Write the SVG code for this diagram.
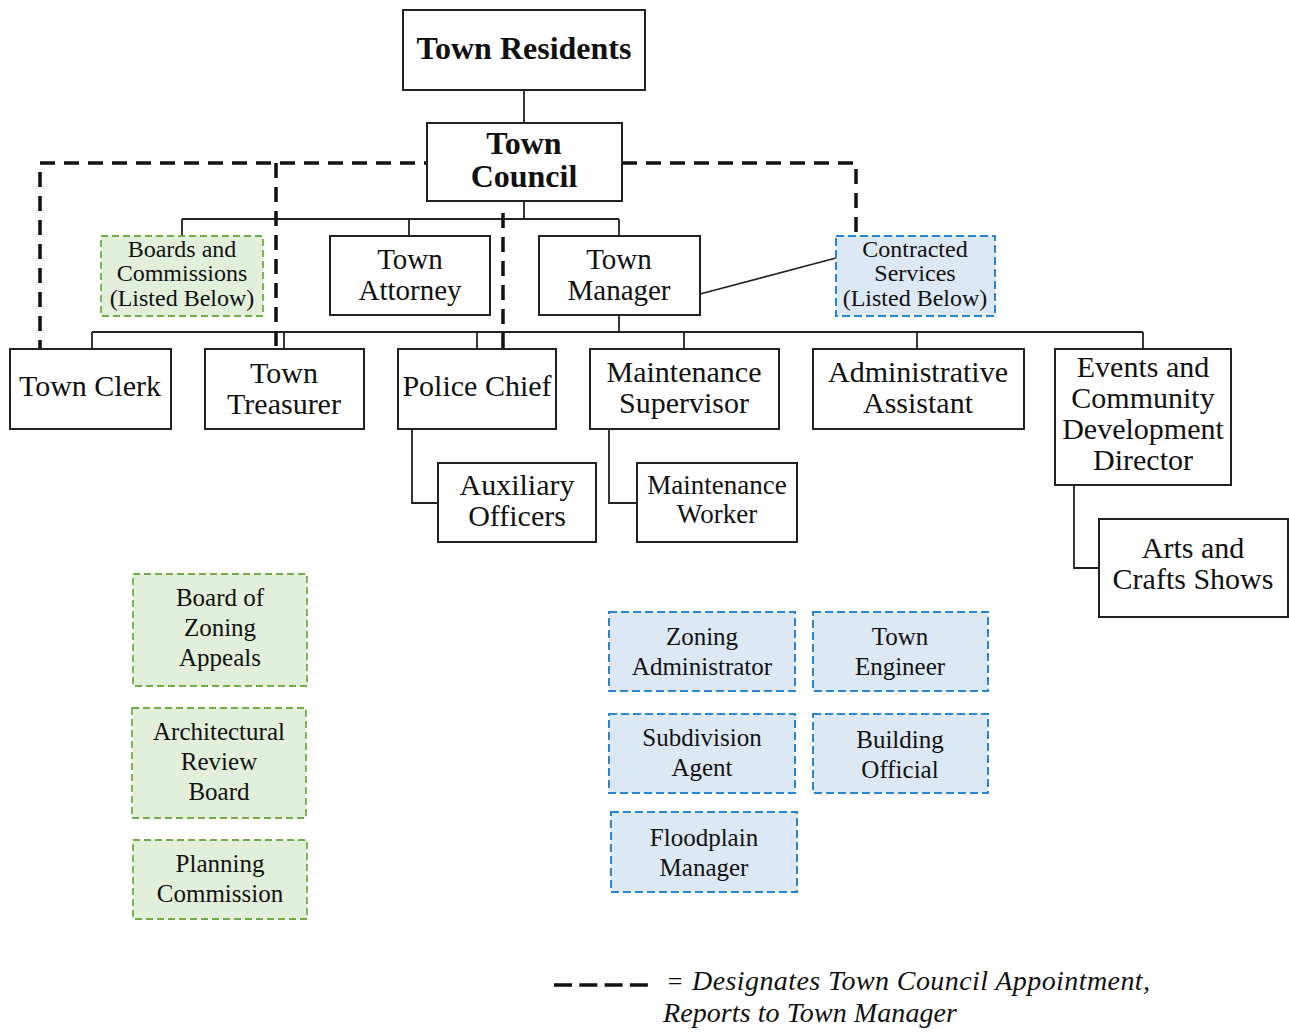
<svg xmlns="http://www.w3.org/2000/svg" width="1289" height="1034" viewBox="0 0 1289 1034">
<style>
  text { font-family: "Liberation Serif", "Times New Roman", serif; fill: #111; text-anchor: middle; }
  .box { fill: #fff; stroke: #222; stroke-width: 2; }
  .green { fill: #e2efda; stroke: #70ad47; stroke-width: 1.8; stroke-dasharray: 7 4; }
  .blue { fill: #dde8f5; stroke: #2a85d3; stroke-width: 2; stroke-dasharray: 8 4; }
  .t30 { font-size: 30px; }
  .t29 { font-size: 29px; }
  .t25 { font-size: 25px; }
  .t24 { font-size: 24px; }
  .t27 { font-size: 27px; }
  .bold { font-size: 32px; font-weight: bold; }
  .conn { fill: none; stroke: #222; stroke-width: 1.8; }
  .dash { fill: none; stroke: #111; stroke-width: 3.5; stroke-dasharray: 15 9; }
  .legend { font-size: 28px; font-style: italic; text-anchor: start; }
</style>
<rect width="1289" height="1034" fill="#fff"/>
<g id="connectors">
  <path class="conn" d="M524,90 V123"/>
  <path class="conn" d="M524,201 V219 M182,219 H619 M182,219 V236 M409,219 V236 M619,219 V236"/>
  <path class="conn" d="M700,294 L836,258"/>
  <path class="conn" d="M619,315 V332 M92,332 H1143 M92,332 V349 M284,332 V349 M477,332 V349 M684,332 V349 M917,332 V349 M1143,332 V349"/>
  <path class="conn" d="M412,429 V503 H438"/>
  <path class="conn" d="M609,429 V503 H637"/>
  <path class="conn" d="M1074,485 V568 H1099"/>
  <path class="dash" d="M40,355 V163 H427"/>
  <path class="dash" d="M276,163 V349"/>
  <path class="dash" d="M622,163 H856 V236"/>
  <path class="dash" d="M503,213 V357"/>
</g>
<g id="town-residents"><rect class="box" x="403" y="10" width="242" height="80"/><text class="bold" x="524" y="59">Town Residents</text></g>
<g id="town-council"><rect class="box" x="427" y="123" width="195" height="78"/><text class="bold" x="524" y="154">Town</text><text class="bold" x="524" y="187">Council</text></g>
<g id="boards-commissions"><rect class="green" x="101" y="236" width="162" height="80"/><text class="t24" x="182" y="257">Boards and</text><text class="t24" x="182" y="281">Commissions</text><text class="t24" x="182" y="306">(Listed Below)</text></g>
<g id="town-attorney"><rect class="box" x="330" y="236" width="160" height="79"/><text class="t29" x="410" y="269">Town</text><text class="t29" x="410" y="300">Attorney</text></g>
<g id="town-manager"><rect class="box" x="539" y="236" width="161" height="79"/><text class="t29" x="619" y="269">Town</text><text class="t29" x="619" y="300">Manager</text></g>
<g id="contracted-services"><rect class="blue" x="836" y="236" width="159" height="80"/><text class="t24" x="915" y="257">Contracted</text><text class="t24" x="915" y="281">Services</text><text class="t24" x="915" y="306">(Listed Below)</text></g>
<g id="town-clerk"><rect class="box" x="10" y="349" width="161" height="80"/><text class="t30" x="90" y="396">Town Clerk</text></g>
<g id="town-treasurer"><rect class="box" x="205" y="349" width="159" height="80"/><text class="t30" x="284" y="383">Town</text><text class="t30" x="284" y="414">Treasurer</text></g>
<g id="police-chief"><rect class="box" x="398" y="349" width="158" height="80"/><text class="t30" x="477" y="396">Police Chief</text></g>
<g id="maintenance-supervisor"><rect class="box" x="590" y="349" width="189" height="80"/><text class="t30" x="684" y="382">Maintenance</text><text class="t30" x="684" y="413">Supervisor</text></g>
<g id="administrative-assistant"><rect class="box" x="813" y="349" width="211" height="80"/><text class="t30" x="918" y="382">Administrative</text><text class="t30" x="918" y="413">Assistant</text></g>
<g id="events-director"><rect class="box" x="1055" y="349" width="176" height="136"/><text class="t30" x="1143" y="377">Events and</text><text class="t30" x="1143" y="408">Community</text><text class="t30" x="1143" y="439">Development</text><text class="t30" x="1143" y="470">Director</text></g>
<g id="auxiliary-officers"><rect class="box" x="438" y="463" width="158" height="79"/><text class="t30" x="517" y="495">Auxiliary</text><text class="t30" x="517" y="526">Officers</text></g>
<g id="maintenance-worker"><rect class="box" x="637" y="463" width="160" height="79"/><text class="t27" x="717" y="494">Maintenance</text><text class="t27" x="717" y="523">Worker</text></g>
<g id="arts-crafts"><rect class="box" x="1099" y="519" width="189" height="98"/><text class="t30" x="1193" y="558">Arts and</text><text class="t30" x="1193" y="589">Crafts Shows</text></g>
<g id="board-zoning-appeals"><rect class="green" x="133" y="574" width="174" height="112"/><text class="t25" x="220" y="606">Board of</text><text class="t25" x="220" y="636">Zoning</text><text class="t25" x="220" y="666">Appeals</text></g>
<g id="architectural-review"><rect class="green" x="132" y="708" width="174" height="110"/><text class="t25" x="219" y="740">Architectural</text><text class="t25" x="219" y="770">Review</text><text class="t25" x="219" y="800">Board</text></g>
<g id="planning-commission"><rect class="green" x="133" y="840" width="174" height="79"/><text class="t25" x="220" y="872">Planning</text><text class="t25" x="220" y="902">Commission</text></g>
<g id="zoning-administrator"><rect class="blue" x="609" y="612" width="186" height="79"/><text class="t25" x="702" y="645">Zoning</text><text class="t25" x="702" y="675">Administrator</text></g>
<g id="town-engineer"><rect class="blue" x="813" y="612" width="175" height="79"/><text class="t25" x="900" y="645">Town</text><text class="t25" x="900" y="675">Engineer</text></g>
<g id="subdivision-agent"><rect class="blue" x="609" y="714" width="186" height="79"/><text class="t25" x="702" y="746">Subdivision</text><text class="t25" x="702" y="776">Agent</text></g>
<g id="building-official"><rect class="blue" x="813" y="714" width="175" height="79"/><text class="t25" x="900" y="748">Building</text><text class="t25" x="900" y="778">Official</text></g>
<g id="floodplain-manager"><rect class="blue" x="611" y="812" width="186" height="80"/><text class="t25" x="704" y="846">Floodplain</text><text class="t25" x="704" y="876">Manager</text></g>
<g id="legend">
  <line x1="554" y1="985" x2="648" y2="985" stroke="#111" stroke-width="3.5" stroke-dasharray="18 7.3"/>
  <text x="675" y="990" style="font-size:26px">=</text>
  <text class="legend" x="692" y="990" textLength="458">Designates Town Council Appointment,</text>
  <text class="legend" x="663" y="1022" textLength="294">Reports to Town Manager</text>
</g>
</svg>
